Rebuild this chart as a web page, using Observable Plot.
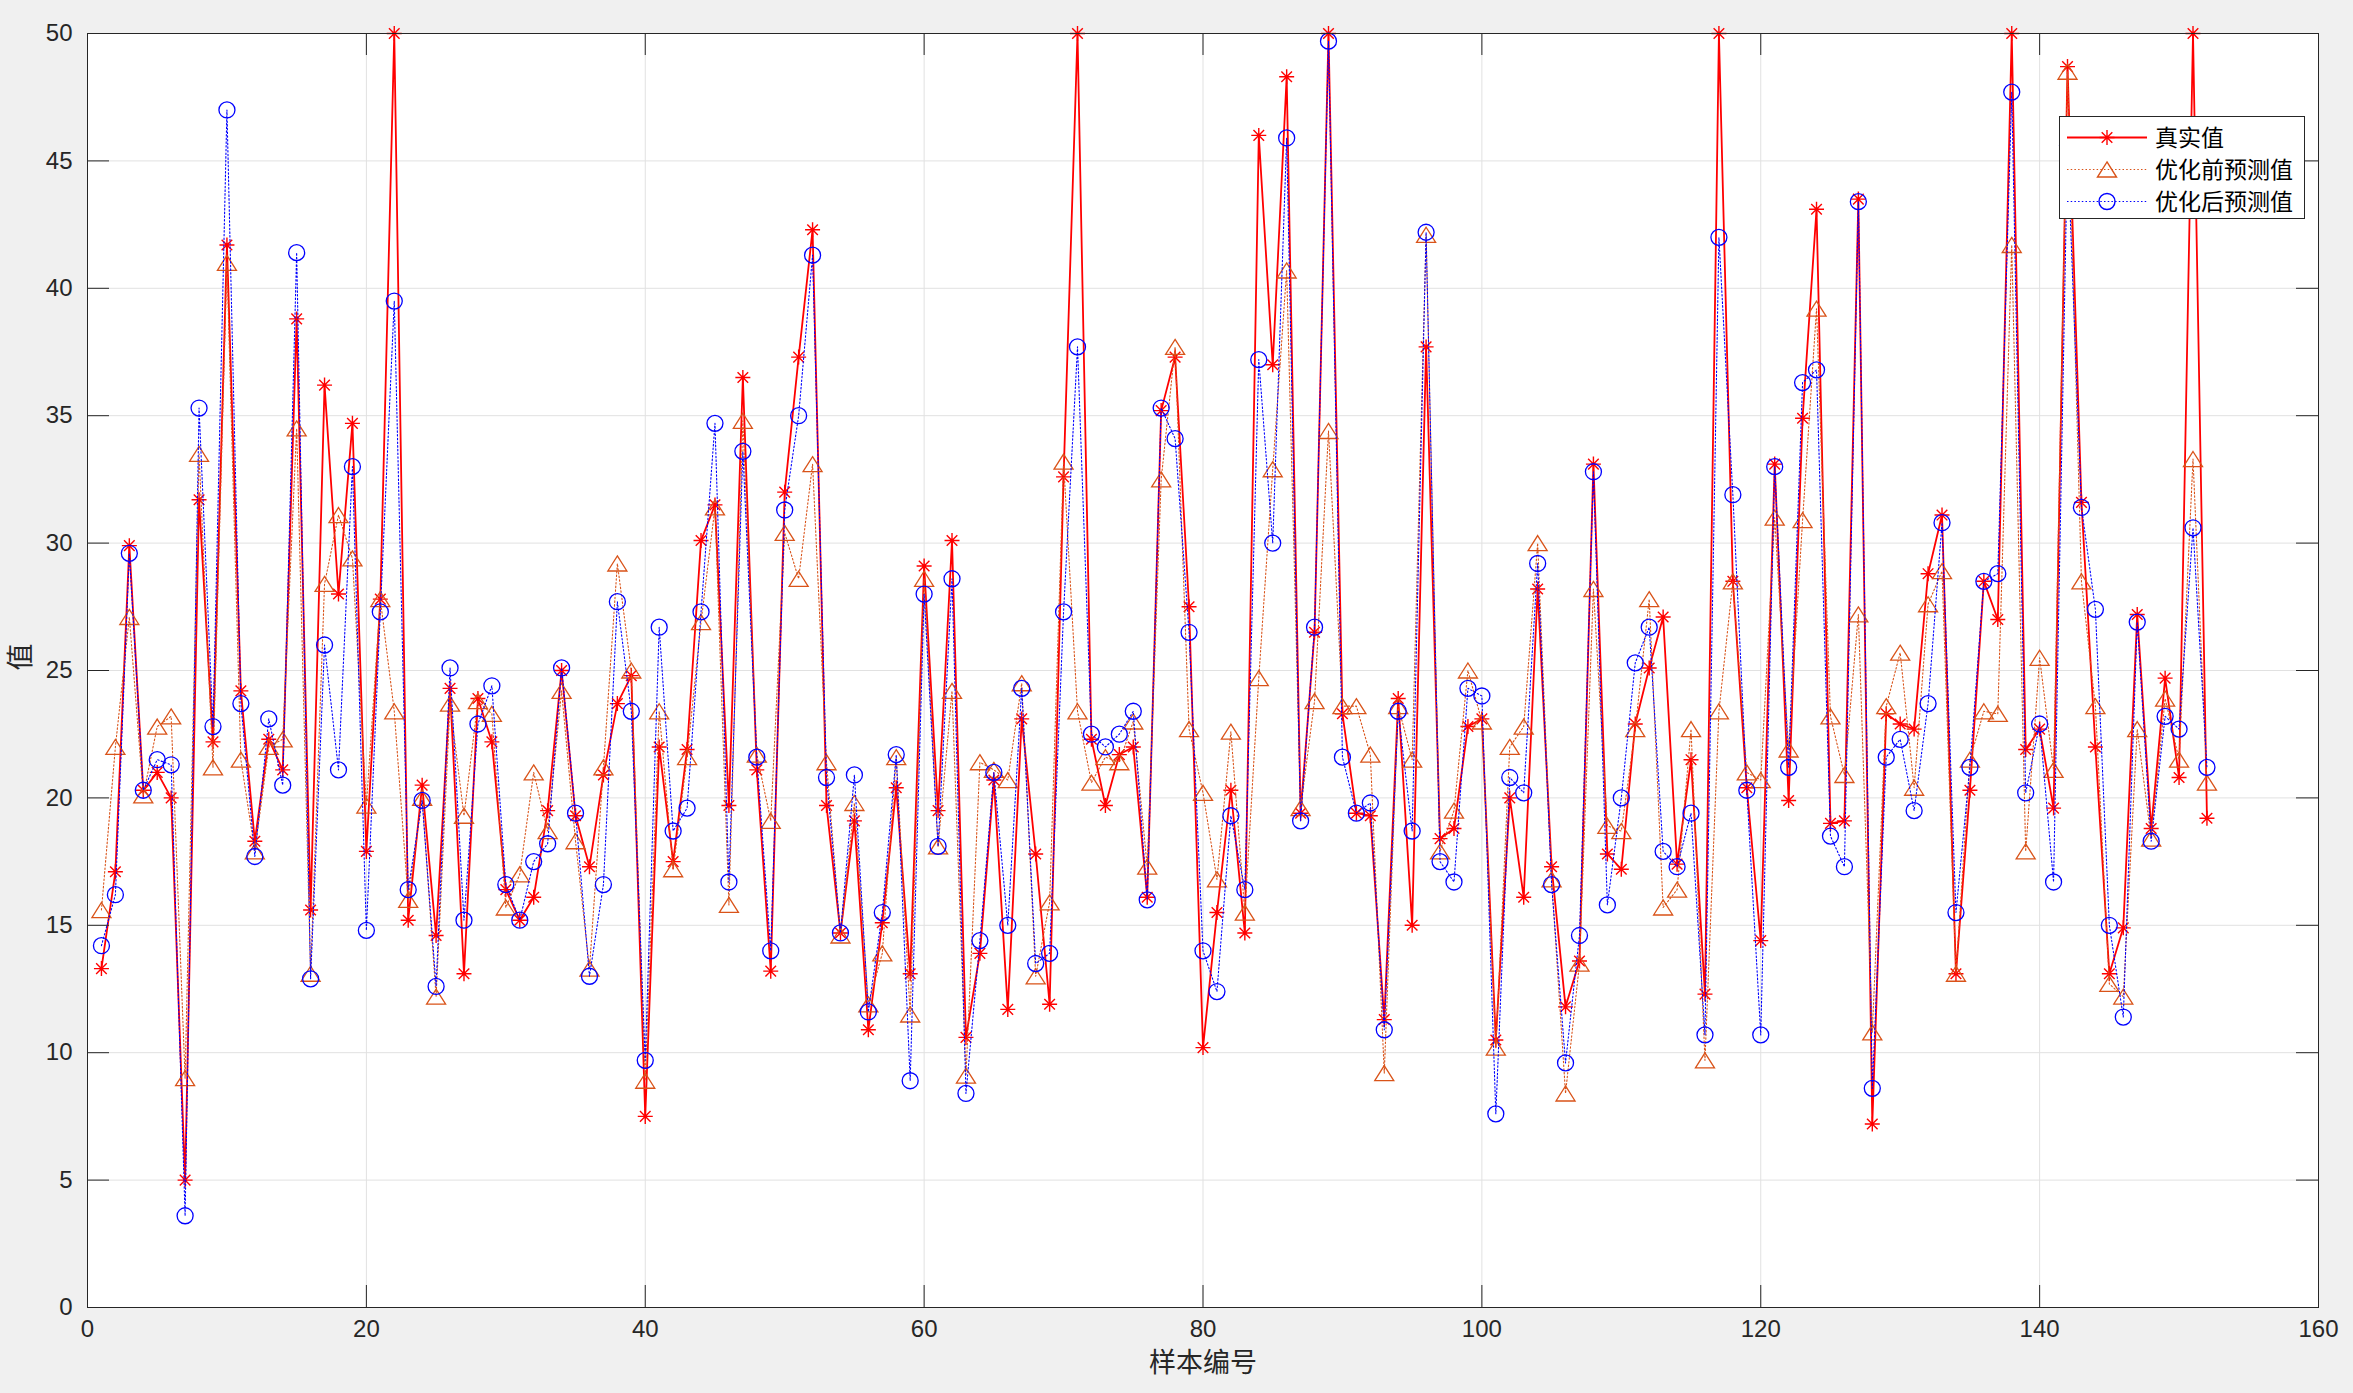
<!DOCTYPE html>
<html><head><meta charset="utf-8">
<script src="https://cdn.jsdelivr.net/npm/d3@7"></script>
<script src="https://cdn.jsdelivr.net/npm/@observablehq/plot@0.6"></script>
<style>
html,body{margin:0;padding:0;background:#f0f0f0;}
#wrap{position:relative;width:2353px;height:1393px;}
#wrap svg{display:block;}
</style></head><body><div id="wrap"></div>
<script>
const samples = d3.range(1, 153);
const trueValues = [13.3,17.1,29.9,20.3,21.0,20.0,5.0,31.7,22.2,41.7,24.2,18.3,22.3,21.1,38.8,15.6,36.2,28.0,34.7,17.9,
27.8,50.0,15.2,20.5,14.6,24.3,13.1,23.9,22.2,16.4,15.2,16.1,19.5,25.0,19.3,17.3,20.9,23.7,24.8,7.5,
22.0,17.5,21.9,30.1,31.5,19.7,36.5,21.1,13.2,32.0,37.3,42.3,19.7,14.7,19.1,10.9,15.1,20.4,13.1,29.1,
19.5,30.1,10.6,13.9,20.7,11.7,23.1,17.8,11.9,32.6,50.0,22.3,19.7,21.7,22.0,16.1,35.2,37.3,27.5,10.2,
15.5,20.3,14.7,46.0,37.0,48.3,19.4,26.5,50.0,23.3,19.4,19.3,11.3,23.9,15.0,37.7,18.4,18.8,22.8,23.1,
10.5,20.0,16.1,28.2,17.3,11.8,13.6,33.1,17.8,17.2,22.9,25.1,27.1,17.4,21.5,12.3,50.0,28.5,20.4,14.4,
33.1,19.9,34.9,43.1,19.0,19.1,43.5,7.2,23.3,22.9,22.7,28.8,31.1,13.1,20.3,28.5,27.0,50.0,21.9,22.7,
19.6,48.7,31.6,22.0,13.1,14.9,27.2,18.8,24.7,20.8,50.0,19.2];
const beforeValues = [15.6,22.0,27.1,20.1,22.8,23.2,9.0,33.5,21.2,41.0,21.5,17.9,22.0,22.3,34.5,13.1,28.4,31.1,29.4,19.7,
27.8,23.4,16.0,20.0,12.2,23.7,19.3,23.8,23.3,15.7,17.0,21.0,18.7,24.2,18.3,13.3,21.2,29.2,25.0,8.9,
23.4,17.2,21.6,26.9,31.4,15.8,34.8,21.7,19.1,30.4,28.6,33.1,21.4,14.6,19.8,11.9,13.9,21.6,11.5,28.6,
18.1,24.2,9.1,21.4,21.1,20.7,24.5,13.0,15.9,33.2,23.4,20.6,21.6,21.4,23.0,17.3,32.5,37.7,22.7,20.2,
16.8,22.6,15.5,24.7,32.9,40.7,19.6,23.8,34.4,23.6,23.6,21.7,9.2,23.6,21.5,42.1,17.9,19.5,25.0,23.0,
10.2,22.0,22.8,30.0,16.8,8.4,13.5,28.2,18.9,18.7,22.7,27.8,15.7,16.4,22.7,9.7,23.4,28.5,21.0,20.7,
31.0,21.9,30.9,39.2,23.2,20.9,27.2,10.8,23.6,25.7,20.4,27.6,28.9,13.1,21.5,23.4,23.3,41.7,17.9,25.5,
21.1,48.5,28.5,23.6,12.7,12.2,22.7,18.4,23.9,21.5,33.3,20.6];
const afterValues = [14.2,16.2,29.6,20.3,21.5,21.3,3.6,35.3,22.8,47.0,23.7,17.7,23.1,20.5,41.4,12.9,26.0,21.1,33.0,14.8,
27.3,39.5,16.4,19.9,12.6,25.1,15.2,22.9,24.4,16.6,15.2,17.5,18.2,25.1,19.4,13.0,16.6,27.7,23.4,9.7,
26.7,18.7,19.6,27.3,34.7,16.7,33.6,21.6,14.0,31.3,35.0,41.3,20.8,14.7,20.9,11.6,15.5,21.7,8.9,28.0,
18.1,28.6,8.4,14.4,21.0,15.0,24.3,13.5,13.9,27.3,37.7,22.5,22.0,22.5,23.4,16.0,35.3,34.1,26.5,14.0,
12.4,19.3,16.4,37.2,30.0,45.9,19.1,26.7,49.7,21.6,19.4,19.8,10.9,23.4,18.7,42.2,17.5,16.7,24.3,24.0,
7.6,20.8,20.2,29.2,16.6,9.6,14.6,32.8,15.8,20.0,25.3,26.7,17.9,17.3,19.4,10.7,42.0,31.9,20.3,10.7,
33.0,21.2,36.3,36.8,18.5,17.3,43.4,8.6,21.6,22.3,19.5,23.7,30.8,15.5,21.2,28.5,28.8,47.7,20.2,22.9,
16.7,45.6,31.4,27.4,15.0,11.4,26.9,18.3,23.2,22.7,30.6,21.2];
const xTicks = [0,20,40,60,80,100,120,140,160];
const yTicks = [0,5,10,15,20,25,30,35,40,45,50];
const seriesNames = ["真实值","优化前预测值","优化后预测值"];
const seriesColors = ["#ff0000","#d95319","#0000ff"];
const xLabel = "样本编号";
const yLabel = "值";

const data = samples.map((s, i) => ({s, t: trueValues[i], b: beforeValues[i], a: afterValues[i]}));

const W = 2353, H = 1393, mL = 87, mR = 35, mT = 33, mB = 86;
const innerW = W - mL - mR, innerH = H - mT - mB;
const tickLen = 22;
const axisColor = "#262626";
const gridColor = "#e1e1e1";
const cjk = "'Noto Sans CJK SC', 'Noto Sans', sans-serif";

const star8 = {draw(ctx, size) {
  const r = Math.sqrt(size / Math.PI), d = r * Math.SQRT1_2;
  ctx.moveTo(-r, 0); ctx.lineTo(r, 0);
  ctx.moveTo(0, -r); ctx.lineTo(0, r);
  ctx.moveTo(-d, -d); ctx.lineTo(d, d);
  ctx.moveTo(-d, d); ctx.lineTo(d, -d);
}};
const tri = {draw(ctx, size) {
  const r = Math.sqrt(size / Math.PI);
  ctx.moveTo(0, -0.94 * r); ctx.lineTo(1.19 * r, 0.94 * r); ctx.lineTo(-1.19 * r, 0.94 * r); ctx.closePath();
}};
const circ = {draw(ctx, size) {
  const r = Math.sqrt(size / Math.PI);
  ctx.moveTo(r, 0); ctx.arc(0, 0, r, 0, 2 * Math.PI);
}};

const dotted = "1.5,2.2";

const chart = Plot.plot({
  width: W, height: H,
  marginLeft: mL, marginRight: mR, marginTop: mT, marginBottom: mB,
  x: {domain: [0, 160]},
  y: {domain: [0, 50]},
  style: {background: "#f0f0f0", fontFamily: "'Liberation Sans', Arial, sans-serif", fontSize: "24px", color: axisColor},
  marks: [
    Plot.frame({fill: "white", stroke: "none"}),
    Plot.gridX(xTicks, {stroke: gridColor, strokeOpacity: 1}),
    Plot.gridY(yTicks, {stroke: gridColor, strokeOpacity: 1}),
    Plot.line(data, {x: "s", y: "t", stroke: seriesColors[0], strokeWidth: 1.8}),
    Plot.dot(data, {x: "s", y: "t", symbol: star8, r: 7.5, stroke: seriesColors[0], strokeWidth: 1.4}),
    Plot.line(data, {x: "s", y: "b", stroke: seriesColors[1], strokeWidth: 1.1, strokeDasharray: dotted}),
    Plot.dot(data, {x: "s", y: "b", symbol: tri, r: 8, stroke: seriesColors[1], fill: "none", strokeWidth: 1.3}),
    Plot.line(data, {x: "s", y: "a", stroke: seriesColors[2], strokeWidth: 1.1, strokeDasharray: dotted}),
    Plot.dot(data, {x: "s", y: "a", symbol: circ, r: 8, stroke: seriesColors[2], fill: "none", strokeWidth: 1.3}),
    Plot.tickY(yTicks, {y: d => d, insetRight: innerW - tickLen, stroke: axisColor}),
    Plot.tickY(yTicks, {y: d => d, insetLeft: innerW - tickLen, stroke: axisColor}),
    Plot.tickX(xTicks, {x: d => d, insetTop: innerH - tickLen, stroke: axisColor}),
    Plot.tickX(xTicks, {x: d => d, insetBottom: innerH - tickLen, stroke: axisColor}),
    Plot.frame({stroke: axisColor, strokeWidth: 1}),
    Plot.axisX(xTicks, {tickSize: 0, tickPadding: 12, label: null, fontSize: 24, fill: axisColor}),
    Plot.axisY(yTicks, {tickSize: 0, tickPadding: 15, label: null, fontSize: 24, fill: axisColor}),
    Plot.text([xLabel], {frameAnchor: "bottom", dy: 64, fontSize: 27, fontFamily: cjk, fill: axisColor}),
    Plot.text([yLabel], {frameAnchor: "left", dx: -66, rotate: -90, fontSize: 27, fontFamily: cjk, fill: axisColor})
  ]
});
document.getElementById("wrap").appendChild(chart);

// legend (inside the axes, top right)
const legW = 245, legH = 102;
const leg = d3.select("#wrap").append("svg")
  .attr("width", legW + 1).attr("height", legH + 1)
  .style("position", "absolute").style("left", "2059px").style("top", "116px");
leg.append("rect").attr("x", 0.5).attr("y", 0.5).attr("width", legW).attr("height", legH)
  .attr("fill", "white").attr("stroke", axisColor);
const syms = [star8, tri, circ];
const symR = [7.5, 8, 8];
const dashes = [null, dotted, dotted];
const widths = [1.8, 1.1, 1.1];
seriesNames.forEach((name, i) => {
  const cy = 21.5 + i * 32;
  const g = leg.append("g");
  g.append("line").attr("x1", 8).attr("x2", 88).attr("y1", cy).attr("y2", cy)
    .attr("stroke", seriesColors[i]).attr("stroke-width", widths[i])
    .attr("stroke-dasharray", dashes[i]);
  const p = d3.path();
  syms[i].draw(p, symR[i] * symR[i] * Math.PI);
  g.append("path").attr("d", p.toString()).attr("transform", `translate(48,${cy})`)
    .attr("fill", "none").attr("stroke", seriesColors[i]).attr("stroke-width", 1.4);
  g.append("text").attr("x", 96).attr("y", cy).attr("dy", "0.36em")
    .attr("font-family", cjk).attr("font-size", 23).attr("fill", "#000").text(name);
});
</script>
</body></html>
